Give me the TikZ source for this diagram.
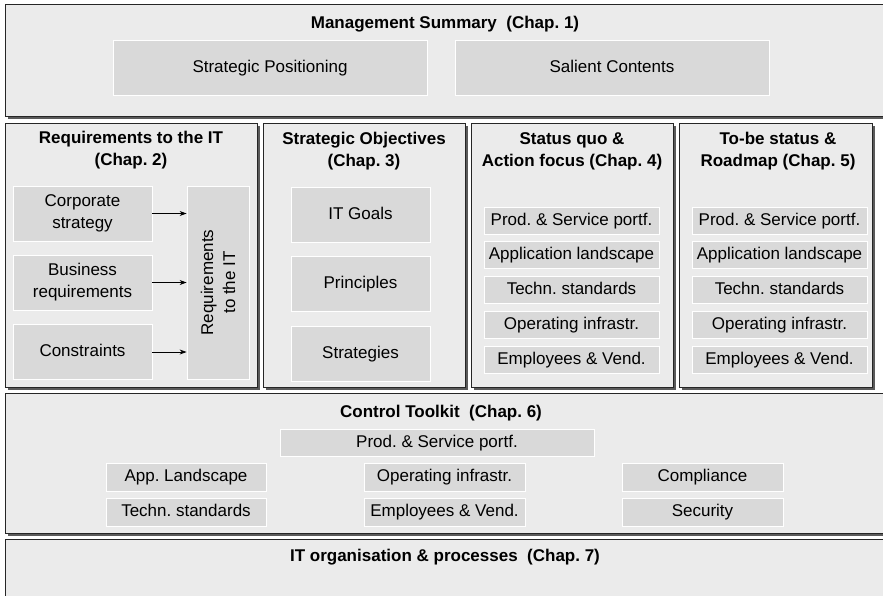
\documentclass[tikz,border=0pt]{standalone}
\usepackage{fontspec}
\setmainfont{Liberation Sans}
\usetikzlibrary{arrows.meta}
\definecolor{outerfill}{HTML}{EBEBEB}
\definecolor{innerfill}{HTML}{D9D9D9}
\definecolor{shadowcol}{HTML}{5A5A5A}
\frenchspacing
\begin{document}
\begin{tikzpicture}[x=1pt,y=-1pt,
  every node/.style={font=\fontsize{17}{22}\selectfont},
  outerbox/.style={draw=black!85, line width=0.9pt, fill=outerfill, inner sep=0pt,
    preaction={fill=shadowcol, transform canvas={xshift=2.5pt,yshift=-2.5pt}}},
  ibox/.style={draw=white, line width=0.8pt, fill=innerfill, inner sep=0pt, align=center},
  sl/.style={text height=12.5pt, text depth=3.5pt},
  title/.style={font=\fontsize{17}{22}\selectfont\bfseries, align=center, inner sep=0pt},
  arr/.style={-{Stealth[length=7pt,width=5pt]}, line width=0.8pt, black}]
\useasboundingbox (0,0) rectangle (883,595);
\begin{scope}
\clip (0,0) rectangle (883,595);
% Management summary
\node[outerbox, minimum width=882pt, minimum height=112pt] (ms) at (446,60) {};
\node[title, sl] (mst) at (445,24) {Management Summary\ \ (Chap. 1)};
\node[ibox, sl, minimum width=314pt, minimum height=55pt] (sp) at (270,67.5) {Strategic Positioning};
\node[ibox, sl, minimum width=314pt, minimum height=55pt] (sc) at (612,67.5) {Salient Contents};

% Requirements to the IT
\node[outerbox, minimum width=252pt, minimum height=264pt] (b1) at (131,255) {};
\node[title] (b1t) at (131,150.5) {Requirements to the IT\\(Chap. 2)};
\node[ibox, minimum width=139pt, minimum height=55pt] (cs) at (82.5,213.5) {Corporate\\strategy};
\node[ibox, minimum width=139pt, minimum height=55pt] (br) at (82.5,282.5) {Business\\requirements};
\node[ibox, sl, minimum width=139pt, minimum height=55pt] (co) at (82.5,352) {Constraints};
\node[ibox, minimum width=62pt, minimum height=193pt] (rq) at (218,282.5) {};
\node[rotate=90, align=center, inner sep=0pt] (rqt) at (rq.center) {Requirements\\to the IT};
\draw[arr] (cs.east) -- (rq.west |- cs.east);
\draw[arr] (br.east) -- (rq.west |- br.east);
\draw[arr] (co.east) -- (rq.west |- co.east);

% Strategic objectives
\node[outerbox, minimum width=202pt, minimum height=264pt] (b2) at (364,255) {};
\node[title] (b2t) at (364,151) {Strategic Objectives\\(Chap. 3)};
\node[ibox, sl, minimum width=139pt, minimum height=55pt] (itg) at (360.5,214.5) {IT Goals};
\node[ibox, sl, minimum width=139pt, minimum height=55pt] (pr) at (360.5,283.5) {Principles};
\node[ibox, sl, minimum width=139pt, minimum height=55pt] (st) at (360.5,353.5) {Strategies};

% Status quo
\node[outerbox, minimum width=202pt, minimum height=264pt] (b3) at (572,255) {};
\node[title] (b3t) at (572,151) {Status quo \&\\Action focus (Chap. 4)};
\node[ibox, sl, minimum width=175pt, minimum height=27pt] (a1) at (571.5,220.5) {Prod. \& Service portf.};
\node[ibox, sl, minimum width=175pt, minimum height=27pt] (a2) at (571.5,255.25) {Application landscape};
\node[ibox, sl, minimum width=175pt, minimum height=27pt] (a3) at (571.5,290) {Techn. standards};
\node[ibox, sl, minimum width=175pt, minimum height=27pt] (a4) at (571.5,324.75) {Operating infrastr.};
\node[ibox, sl, minimum width=175pt, minimum height=27pt] (a5) at (571.5,359.5) {Employees \& Vend.};

% To-be status
\node[outerbox, minimum width=193pt, minimum height=264pt] (b4) at (775.5,255) {};
\node[title] (b4t) at (778,151) {To-be status \&\\Roadmap (Chap. 5)};
\node[ibox, sl, minimum width=175pt, minimum height=27pt] (t1) at (779.5,220.5) {Prod. \& Service portf.};
\node[ibox, sl, minimum width=175pt, minimum height=27pt] (t2) at (779.5,255.25) {Application landscape};
\node[ibox, sl, minimum width=175pt, minimum height=27pt] (t3) at (779.5,290) {Techn. standards};
\node[ibox, sl, minimum width=175pt, minimum height=27pt] (t4) at (779.5,324.75) {Operating infrastr.};
\node[ibox, sl, minimum width=175pt, minimum height=27pt] (t5) at (779.5,359.5) {Employees \& Vend.};

% Control toolkit
\node[outerbox, minimum width=882pt, minimum height=140pt] (ct) at (446,463) {};
\node[title, sl] (ctt) at (441,413) {Control Toolkit\ \ (Chap. 6)};
\node[ibox, sl, minimum width=314pt, minimum height=27pt] (c1) at (437,442.5) {Prod. \& Service portf.};
\node[ibox, sl, minimum width=160pt, minimum height=28pt] (c2) at (186,477) {App. Landscape};
\node[ibox, sl, minimum width=160pt, minimum height=28pt] (c3) at (186,512) {Techn. standards};
\node[ibox, sl, minimum width=161pt, minimum height=28pt] (c4) at (444.5,477) {Operating infrastr.};
\node[ibox, sl, minimum width=161pt, minimum height=28pt] (c5) at (444.5,512) {Employees \& Vend.};
\node[ibox, sl, minimum width=161pt, minimum height=28pt] (c6) at (702.5,477) {Compliance};
\node[ibox, sl, minimum width=161pt, minimum height=28pt] (c7) at (702.5,512) {Security};

% IT organisation
\node[outerbox, minimum width=882pt, minimum height=80pt] (io) at (446,579) {};
\node[title, sl] (iot) at (445,557) {IT organisation \& processes\ \ (Chap. 7)};
\end{scope}
\end{tikzpicture}
\end{document}
